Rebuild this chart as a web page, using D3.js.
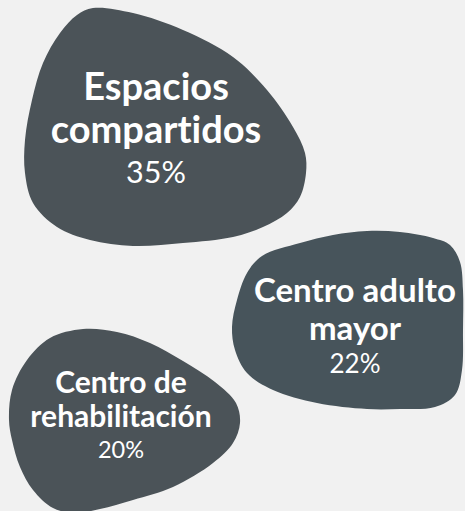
<!DOCTYPE html>
<html>
<head>
<meta charset="utf-8">
<script src="https://cdn.jsdelivr.net/npm/d3@7"></script>
<style>
  html, body { margin: 0; padding: 0; background: #f1f1f1; }
  svg { display: block; }
  text { font-variant-ligatures: none; font-feature-settings: "liga" 0; }
</style>
</head>
<body>
<div class="chart"></div>
<script>
// data ------------------------------
const categories = ["Espacios compartidos", "Centro adulto mayor", "Centro de rehabilitación"];
const values = [35, 22, 20];
const labelLines = [["Espacios", "compartidos"], ["Centro adulto", "mayor"], ["Centro de", "rehabilitación"]];

// layout (blob outlines + where the label sits) -----------
const width = 465, height = 511;

const outlines = [
  [[93,8],[133,13],[183,30],[233,57],[267,90],[293,127],[305,153],[306,173],[300,197],[287,213],
   [263,227],[233,237],[183,243],[133,246],[90,240],[57,227],[33,203],[25,173],[25,140],[32,100],
   [43,63],[60,33],[77,15]],
  [[367,231],[400,232],[433,238],[450,245],[460,262],[463,290],[463,330],[462,370],[455,395],[435,407],
   [400,409],[367,409],[317,403],[273,390],[247,373],[235,350],[232,327],[237,300],[247,273],[262,256],
   [300,243],[333,235]],
  [[83,329],[117,332],[150,343],[183,361],[215,382],[236,403],[240,423],[233,443],[213,463],[173,487],
   [133,500],[100,509],[75,513],[53,508],[33,490],[20,467],[12,440],[9,420],[12,390],[27,360],[50,338]]
];
const labelPos = [[156, 100], [355, 302], [121, 393]];
const blobColors = ["#4b5358", "#47545b", "#4b5358"];

// scales ------------------------------
const nameSize = d3.scaleLinear().domain([20, 22, 35]).range([30, 33, 38]);
const pctSize = d3.scaleLinear().domain([20, 22, 35]).range([23.5, 26, 30.5]);

const svg = d3.select(".chart")
  .append("svg")
  .attr("width", width)
  .attr("height", height);

svg.append("rect")
  .attr("width", width)
  .attr("height", height)
  .attr("fill", "#f1f1f1");

const line = d3.line().curve(d3.curveCatmullRomClosed.alpha(0.5));

const data = categories.map((c, i) => ({
  name: c, value: values[i], lines: labelLines[i],
  outline: outlines[i], pos: labelPos[i], color: blobColors[i]
}));

const g = svg.selectAll(".blob")
  .data(data)
  .join("g")
  .attr("class", "blob");

g.append("path")
  .attr("d", d => line(d.outline))
  .attr("fill", d => d.color);

g.each(function(d) {
  const fs = nameSize(d.value);
  const lh = fs * 1.14;
  const t = d3.select(this).append("text")
    .attr("text-anchor", "middle")
    .attr("fill", "#ffffff")
    .style("font-family", "Lato, sans-serif");
  d.lines.forEach((l, j) => {
    t.append("tspan")
      .attr("x", d.pos[0])
      .attr("y", d.pos[1] + j * lh)
      .style("font-weight", 700)
      .style("font-size", fs + "px")
      .text(l);
  });
  const ps = pctSize(d.value);
  t.append("tspan")
    .attr("x", d.pos[0])
    .attr("y", d.pos[1] + (d.lines.length - 1) * lh + ps * 1.3)
    .style("font-weight", 400)
    .style("font-size", ps + "px")
    .text(d.value + "%");
});
</script>
</body>
</html>
